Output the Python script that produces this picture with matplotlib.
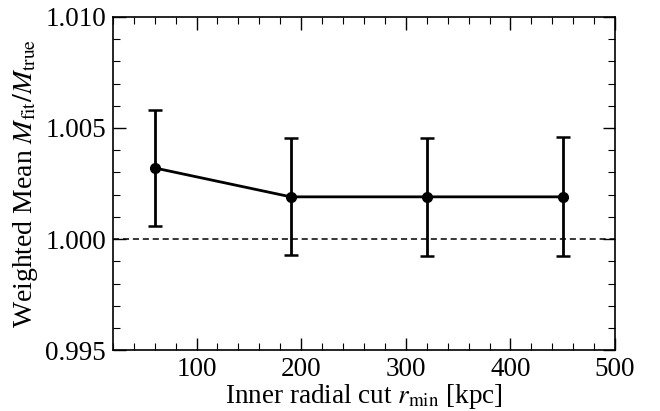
import matplotlib
matplotlib.use("Agg")
import matplotlib.pyplot as plt
from matplotlib.ticker import MultipleLocator

r_min = [60, 190, 320, 450]
mean_ratio = [1.0032, 1.0019, 1.0019, 1.0019]
err_lo = [0.0026, 0.00263, 0.00265, 0.00266]
err_hi = [0.0026, 0.00265, 0.00267, 0.00268]

plt.rcParams['font.family'] = ['Liberation Serif', 'DejaVu Serif']
plt.rcParams['mathtext.fontset'] = 'stix'

fig = plt.figure(figsize=(6.6, 4.11), dpi=100)
ax = fig.add_axes([0.171, 0.148, 0.761, 0.811])

ax.axhline(1.0, color='black', ls='--', lw=1.1, dashes=(4, 2.5))
ax.errorbar(r_min, mean_ratio, yerr=[err_lo, err_hi], color='black', lw=2.0,
            marker='o', ms=7, capsize=5, capthick=1.8, elinewidth=2.0)

ax.set_xlim(20, 500)
ax.set_ylim(0.995, 1.010)
ax.xaxis.set_major_locator(MultipleLocator(100))
ax.xaxis.set_minor_locator(MultipleLocator(20))
ax.yaxis.set_major_locator(MultipleLocator(0.005))
ax.yaxis.set_minor_locator(MultipleLocator(0.001))
ax.yaxis.set_major_formatter(matplotlib.ticker.FormatStrFormatter('%.3f'))
ax.tick_params(which='both', direction='in', top=True, right=True, labelsize=19.5)
ax.tick_params(which='major', length=9, width=1.0, pad=5)
ax.tick_params(which='minor', length=5, width=0.8)
for s in ax.spines.values():
    s.set_linewidth(1.2)

ax.set_xlabel(r'Inner radial cut $r_{\rm min}$ [kpc]', fontsize=19.5, labelpad=0)
ax.set_ylabel(r'Weighted Mean $M_{\rm fit}/M_{\rm true}$', fontsize=20, labelpad=4)

fig.savefig('out.png', dpi=100)
